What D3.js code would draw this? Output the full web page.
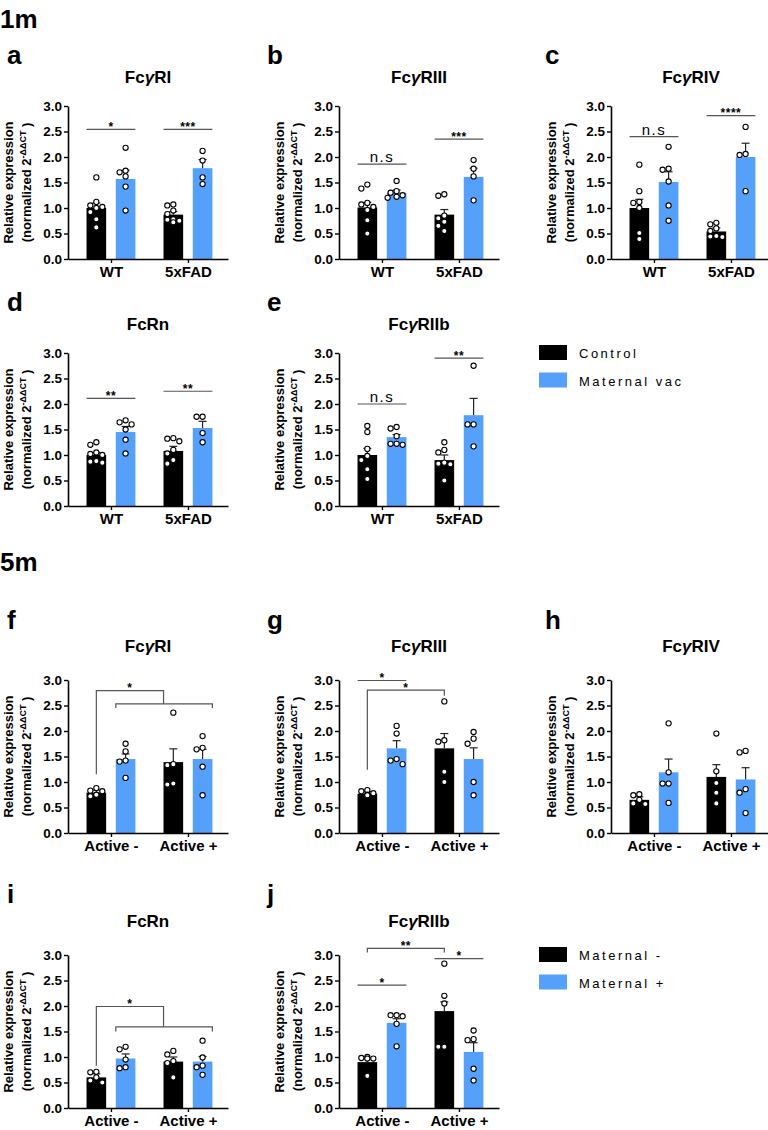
<!DOCTYPE html>
<html>
<head>
<meta charset="utf-8">
<title>Fc receptor expression</title>
<script src="https://cdn.jsdelivr.net/npm/d3@7"></script>
<style>
  body { margin: 0; background: #fff; font-family: Arial, "Liberation Sans", sans-serif; }
</style>
</head>
<body>
<svg id="fig"></svg>
<script>
// panels, in reading order
var panelLetters = ["a", "b", "c", "d", "e", "f", "g", "h", "i", "j"];
var panelTitles = ["FcγRI", "FcγRIII", "FcγRIV", "FcRn", "FcγRIIb", "FcγRI", "FcγRIII", "FcγRIV", "FcRn", "FcγRIIb"];
var panelRow = [0, 0, 0, 1, 1, 2, 2, 2, 3, 3];
var panelCol = [0, 1, 2, 0, 1, 0, 1, 2, 0, 1];

var groups1m = ["WT", "5xFAD"];
var groups5m = ["Active -", "Active +"];
var yTicks = [0, 0.5, 1, 1.5, 2, 2.5, 3];
var legend1m = ["Control", "Maternal vac"];
var legend5m = ["Maternal -", "Maternal +"];

// bar order: group1 black, group1 blue, group2 black, group2 blue
var means = [
  [1.0, 1.57, 0.87, 1.78],
  [1.01, 1.30, 0.87, 1.61],
  [1.0, 1.51, 0.54, 2.0],
  [1.0, 1.45, 1.08, 1.53],
  [1.0, 1.35, 0.90, 1.78],
  [0.79, 1.45, 1.39, 1.45],
  [0.77, 1.66, 1.66, 1.45],
  [0.65, 1.19, 1.10, 1.05],
  [0.60, 0.97, 0.91, 0.91],
  [0.90, 1.67, 1.90, 1.10]
];
var sems = [
  [0.10, 0.17, 0.06, 0.17],
  [0.10, 0.05, 0.10, 0.17],
  [0.17, 0.20, 0.07, 0.27],
  [0.05, 0.11, 0.09, 0.13],
  [0.13, 0.05, 0.10, 0.33],
  [0.05, 0.10, 0.26, 0.19],
  [0.04, 0.15, 0.29, 0.22],
  [0.06, 0.26, 0.24, 0.23],
  [0.07, 0.09, 0.09, 0.10],
  [0.07, 0.08, 0.18, 0.18]
];
var points = [
  [[1.6, 1.12, 1.05, 1.02, 1.0, 0.92, 0.78, 0.62], [2.18, 1.73, 1.7, 1.62, 1.42, 0.95], [1.07, 1.05, 0.95, 0.88, 0.78, 0.77, 0.75, 0.72], [2.12, 1.93, 1.6, 1.47]],
  [[1.46, 1.38, 1.1, 1.07, 1.02, 0.96, 0.76, 0.5], [1.53, 1.33, 1.3, 1.25, 1.22, 1.2], [1.27, 1.24, 0.85, 0.8, 0.73, 0.65, 0.55], [1.94, 1.77, 1.62, 1.15]],
  [[1.85, 1.33, 1.12, 1.1, 1.0, 0.51, 0.39], [2.2, 1.77, 1.75, 1.52, 1.05, 0.75], [0.71, 0.68, 0.6, 0.55, 0.45, 0.44, 0.43], [2.59, 2.06, 2.04, 1.33]],
  [[1.25, 1.2, 1.05, 1.02, 1.0, 0.88, 0.87, 0.85], [1.68, 1.64, 1.6, 1.5, 1.3, 1.03], [1.33, 1.32, 1.27, 1.1, 1.03, 0.9, 0.83], [1.75, 1.75, 1.43, 1.25]],
  [[1.57, 1.45, 1.12, 0.98, 0.9, 0.72, 0.53], [1.55, 1.52, 1.37, 1.22, 1.22, 1.2], [1.25, 1.1, 1.05, 0.85, 0.83, 0.82, 0.5], [2.75, 1.6, 1.6, 1.17]],
  [[0.88, 0.83, 0.82, 0.75, 0.72], [1.75, 1.6, 1.42, 1.4, 1.08], [2.36, 1.35, 1.33, 0.97, 0.95], [1.9, 1.67, 1.64, 1.3, 0.74]],
  [[0.84, 0.82, 0.78, 0.75, 0.74], [2.1, 1.95, 1.45, 1.42, 1.35], [2.58, 1.82, 1.79, 1.2, 1.0], [1.98, 1.85, 1.75, 1.0, 0.74]],
  [[0.76, 0.74, 0.65, 0.58, 0.57], [2.15, 1.19, 0.97, 0.97, 0.59], [1.95, 1.21, 0.98, 0.79, 0.58], [1.61, 1.58, 0.86, 0.79, 0.39]],
  [[0.71, 0.7, 0.6, 0.54, 0.5], [1.2, 1.15, 0.95, 0.8, 0.78], [1.12, 1.05, 0.92, 0.88, 0.6], [1.32, 0.99, 0.83, 0.8, 0.65]],
  [[1.0, 0.98, 0.97, 0.97, 0.63], [1.82, 1.82, 1.8, 1.65, 1.21], [2.83, 2.2, 2.05, 1.2, 1.2], [1.52, 1.35, 1.33, 0.77, 0.54]]
];

// significance lines: paths in (group units, value) and label
var marks = [
  [{path: [[-0.317, 2.54], [0.317, 2.54]], label: "*"}, {path: [[0.683, 2.54], [1.317, 2.54]], label: "***"}],
  [{path: [[-0.317, 1.86], [0.317, 1.86]], label: "n.s"}, {path: [[0.683, 2.35], [1.317, 2.35]], label: "***"}],
  [{path: [[-0.317, 2.40], [0.317, 2.40]], label: "n.s"}, {path: [[0.683, 2.81], [1.317, 2.81]], label: "****"}],
  [{path: [[-0.317, 2.11], [0.317, 2.11]], label: "**"}, {path: [[0.683, 2.25], [1.317, 2.25]], label: "**"}],
  [{path: [[-0.317, 2.00], [0.317, 2.00]], label: "n.s"}, {path: [[0.683, 2.90], [1.317, 2.90]], label: "**"}],
  [{path: [[-0.19, 1.15], [-0.19, 2.79], [0.683, 2.79], [0.683, 2.53]], label: "*"}, {path: [[0.063, 2.45], [0.063, 2.53], [1.317, 2.53], [1.317, 2.45]], label: ""}],
  [{path: [[-0.317, 2.99], [0.317, 2.99]], label: "*"}, {path: [[-0.19, 1.24], [-0.19, 2.80], [0.81, 2.80], [0.81, 2.69]], label: "*"}],
  [],
  [{path: [[-0.19, 0.83], [-0.19, 1.99], [0.683, 1.99], [0.683, 1.59]], label: "*"}, {path: [[0.063, 1.50], [0.063, 1.59], [1.317, 1.59], [1.317, 1.50]], label: ""}],
  [{path: [[-0.317, 2.41], [0.317, 2.41]], label: "*"}, {path: [[-0.19, 3.05], [-0.19, 3.13], [0.81, 3.13], [0.81, 3.05]], label: "**"}, {path: [[0.683, 2.93], [1.317, 2.93]], label: "*"}]
];

// layout
var colX = [68, 339, 611];
var rowTop = [106, 353, 680, 955];
var titleY = [83, 330, 652, 927];
var letterY = [64, 311, 629, 903];
var letterX = [7, 267, 545];
var plotW = 160, plotH = 153;
var barOffset = 0.19, barWidth = 0.255;
var black = "#000", blue = "#55a0fa";
var font = "Arial, 'Liberation Sans', sans-serif";

var svg = d3.select("#fig").attr("width", 768).attr("height", 1130)
  .style("font-family", font);

svg.append("text").attr("x", 0).attr("y", 28).attr("font-size", 26).attr("font-weight", "bold").text("1m");
svg.append("text").attr("x", 0).attr("y", 571).attr("font-size", 26).attr("font-weight", "bold").text("5m");

function dodge(vals, y, cx) {
  var placed = [];
  var offs = [0, -6, 6, -3, 3, -9, 9];
  return vals.map(function(v) {
    var py = y(v);
    for (var i = 0; i < offs.length; i++) {
      var px = cx + offs[i];
      var ok = placed.every(function(q) { return Math.hypot(q[0] - px, q[1] - py) >= 5.5; });
      if (ok) { placed.push([px, py]); return [px, py]; }
    }
    placed.push([cx, py]);
    return [cx, py];
  });
}

panelLetters.forEach(function(letter, p) {
  var r = panelRow[p], c = panelCol[p];
  var x0 = colX[c], top = rowTop[r];
  var groups = r < 2 ? groups1m : groups5m;

  var x = d3.scaleLinear().domain([-0.558, 1.52]).range([x0, x0 + plotW]);
  var y = d3.scaleLinear().domain([0, 3]).range([top + plotH, top]);
  var g = svg.append("g");

  g.append("text").attr("x", letterX[c]).attr("y", letterY[r])
    .attr("font-size", 26).attr("font-weight", "bold").text(letter);

  // title with italic gamma
  var t = g.append("text").attr("x", x0 + 80).attr("y", titleY[r])
    .attr("text-anchor", "middle").attr("font-size", 17).attr("font-weight", "bold");
  var parts = panelTitles[p].split("γ");
  t.append("tspan").text(parts[0]);
  if (parts.length > 1) {
    t.append("tspan").attr("font-style", "italic").text("γ");
    t.append("tspan").text(parts[1]);
  }

  var bars = means[p].map(function(m, k) {
    return {m: m, s: sems[p][k], pts: points[p][k], k: k,
            u: Math.floor(k / 2) + (k % 2 ? barOffset : -barOffset)};
  });

  g.selectAll("rect.bar").data(bars).enter().append("rect")
    .attr("class", "bar")
    .attr("x", function(d) { return x(d.u - barWidth / 2); })
    .attr("width", x(barWidth) - x(0))
    .attr("y", function(d) { return y(d.m); })
    .attr("height", function(d) { return y(0) - y(d.m); })
    .attr("fill", function(d) { return d.k % 2 ? blue : black; });

  // error bars (upper only)
  bars.forEach(function(d) {
    var cx = x(d.u);
    g.append("line").attr("x1", cx).attr("x2", cx).attr("y1", y(d.m)).attr("y2", y(d.m + d.s))
      .attr("stroke", "#222").attr("stroke-width", 1.2);
    g.append("line").attr("x1", cx - 4).attr("x2", cx + 4).attr("y1", y(d.m + d.s)).attr("y2", y(d.m + d.s))
      .attr("stroke", "#222").attr("stroke-width", 1.2);
  });

  // individual points
  bars.forEach(function(d) {
    g.selectAll(null).data(dodge(d.pts, y, x(d.u))).enter().append("circle")
      .attr("cx", function(q) { return q[0]; })
      .attr("cy", function(q) { return q[1]; })
      .attr("r", 2.6)
      .attr("fill", "#fff").attr("stroke", "#000").attr("stroke-width", 1.1);
  });

  // axes
  var yAxis = d3.axisLeft(y).tickValues(yTicks).tickFormat(d3.format(".1f"))
    .tickSize(4).tickSizeOuter(0).tickPadding(2);
  var ya = g.append("g").attr("transform", "translate(" + x0 + ",0)").call(yAxis);
  ya.selectAll("text").attr("font-size", 13.5).attr("font-weight", "bold").attr("font-family", font).attr("fill", "#000");

  var xAxis = d3.axisBottom(x).tickValues([0, 1]).tickFormat(function(d) { return groups[d]; })
    .tickSize(4).tickSizeOuter(0).tickPadding(3);
  var xa = g.append("g").attr("transform", "translate(0," + (top + plotH) + ")").call(xAxis);
  xa.selectAll("text").attr("font-size", 15).attr("font-weight", "bold").attr("font-family", font).attr("fill", "#000");

  [ya, xa].forEach(function(a) {
    a.select(".domain").attr("stroke", "#000").attr("stroke-width", 1.6);
    a.selectAll(".tick line").attr("stroke", "#000").attr("stroke-width", 1.4);
  });

  // y label
  var cy = top + plotH / 2;
  g.append("text").attr("transform", "translate(" + (x0 - 55) + "," + cy + ") rotate(-90)")
    .attr("text-anchor", "middle").attr("font-size", 13).attr("font-weight", "bold")
    .text("Relative expression");
  var l2 = g.append("text").attr("transform", "translate(" + (x0 - 37) + "," + cy + ") rotate(-90)")
    .attr("text-anchor", "middle").attr("font-size", 13).attr("font-weight", "bold");
  l2.append("tspan").text("(normalized 2");
  l2.append("tspan").attr("dy", -5).attr("font-size", 9).text("-ΔΔCT");
  l2.append("tspan").attr("dy", 5).text(" )");

  // significance marks
  var line = d3.line().x(function(d) { return x(d[0]); }).y(function(d) { return y(d[1]); });
  marks[p].forEach(function(mk) {
    g.append("path").attr("d", line(mk.path)).attr("fill", "none")
      .attr("stroke", "#555").attr("stroke-width", 1.2);
    if (!mk.label) return;
    var vmax = d3.max(mk.path, function(d) { return d[1]; });
    var tops = mk.path.filter(function(d) { return d[1] === vmax; });
    var um = d3.mean(tops, function(d) { return d[0]; });
    var ns = mk.label === "n.s";
    g.append("text").attr("x", x(um)).attr("y", y(vmax) + (ns ? -2 : 1.5))
      .attr("text-anchor", "middle")
      .attr("font-size", ns ? 15 : 12).attr("font-weight", ns ? "normal" : "bold")
      .attr("letter-spacing", ns ? 1.5 : 0.5)
      .text(mk.label);
  });
});

// legends
function legend(labels, y0) {
  var lg = svg.append("g");
  lg.selectAll("rect").data(labels).enter().append("rect")
    .attr("x", 539).attr("y", function(d, i) { return y0 + i * 27.5; })
    .attr("width", 28).attr("height", 15)
    .attr("fill", function(d, i) { return i ? blue : black; });
  lg.selectAll("text").data(labels).enter().append("text")
    .attr("x", 579).attr("y", function(d, i) { return y0 + 13 + i * 27.5; })
    .attr("font-size", 13).attr("letter-spacing", 2.5)
    .text(function(d) { return d; });
}
legend(legend1m, 345);
legend(legend5m, 947);
</script>
</body>
</html>
